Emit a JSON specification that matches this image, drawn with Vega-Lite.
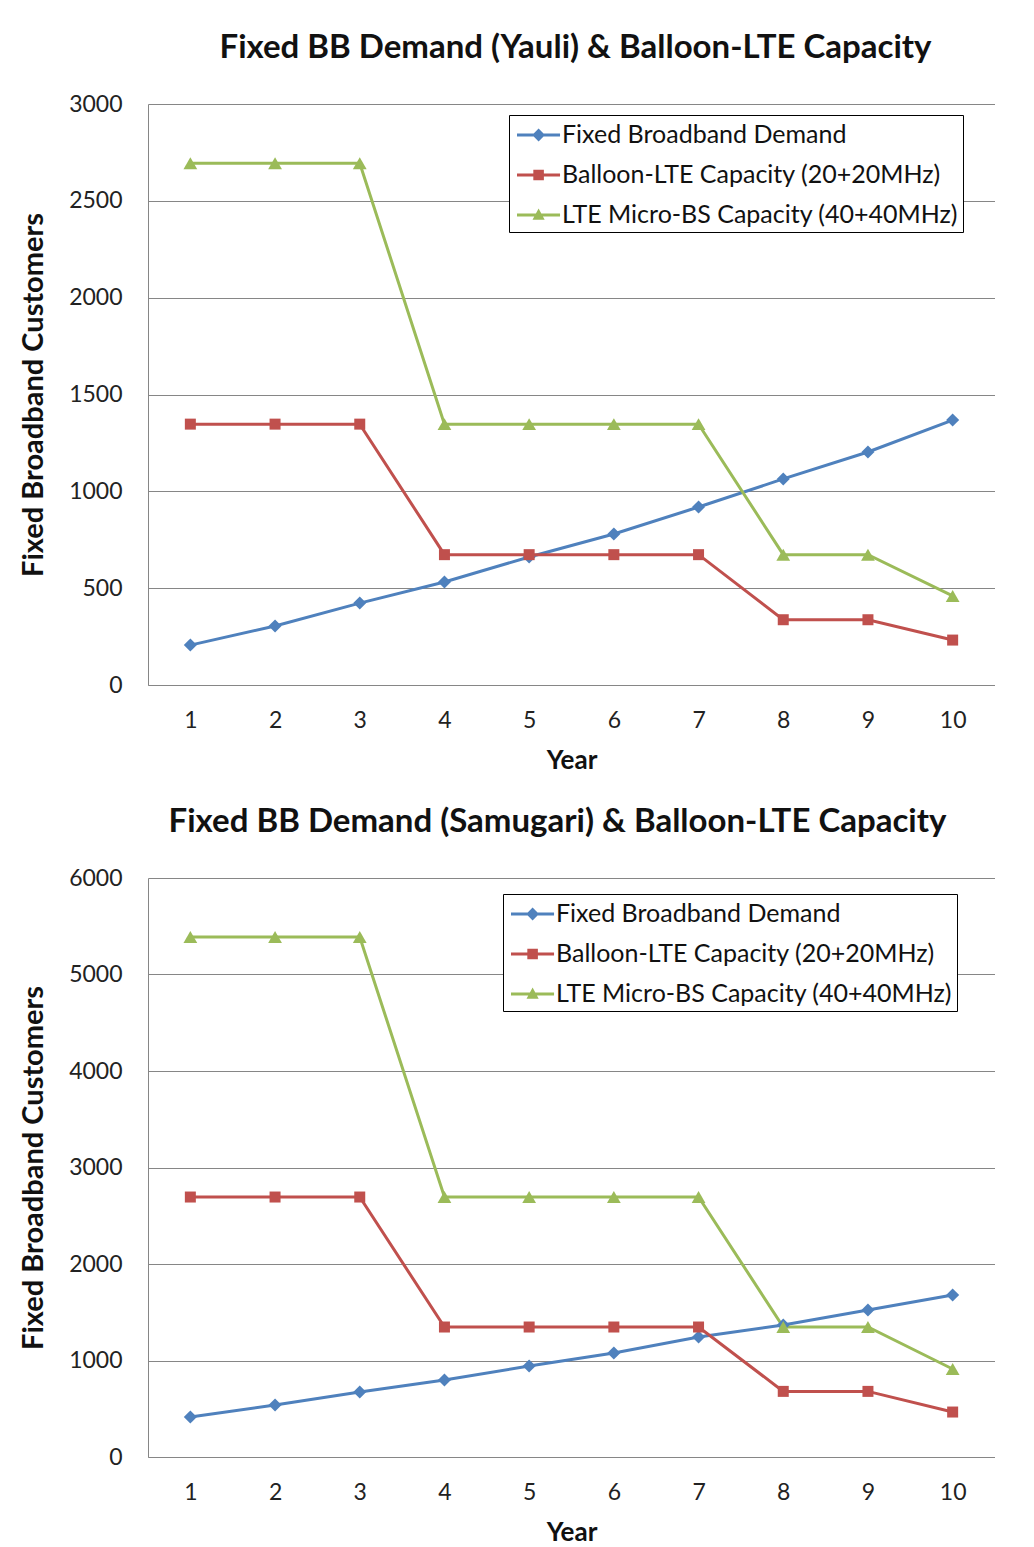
{
  "$schema": "https://vega.github.io/schema/vega-lite/v6.json",
  "background": "white",
  "padding": {"top": 32, "left": 19, "right": 0, "bottom": 0},
  "spacing": 33,
  "config": {
    "font": "Lato",
    "view": {"stroke": null},
    "axis": {
      "labelFont": "Lato", "labelFontSize": 23, "labelColor": "#222",
      "titleFont": "Lato", "titleFontSize": 26, "titleFontWeight": "bold", "titleColor": "#111",
      "ticks": false, "domainColor": "#868686", "gridColor": "#868686", "domainWidth": 1, "gridWidth": 1
    },
    "axisX": {"labelPadding": 24, "titlePadding": 15, "grid": false, "labelAngle": 0},
    "axisY": {"labelPadding": 26, "titlePadding": 20, "titleFontSize": 29, "grid": true, "format": "d"},
    "title": {"font": "Lato", "fontSize": 33, "fontWeight": "bold", "color": "#111", "frame": "group", "offset": 28}
  },
  "datasets": {
    "yauli": [
      {"year": 1, "series": "Fixed Broadband Demand", "customers": 206},
      {"year": 2, "series": "Fixed Broadband Demand", "customers": 305},
      {"year": 3, "series": "Fixed Broadband Demand", "customers": 423},
      {"year": 4, "series": "Fixed Broadband Demand", "customers": 532},
      {"year": 5, "series": "Fixed Broadband Demand", "customers": 661},
      {"year": 6, "series": "Fixed Broadband Demand", "customers": 780},
      {"year": 7, "series": "Fixed Broadband Demand", "customers": 919},
      {"year": 8, "series": "Fixed Broadband Demand", "customers": 1064},
      {"year": 9, "series": "Fixed Broadband Demand", "customers": 1203},
      {"year": 10, "series": "Fixed Broadband Demand", "customers": 1368},
      {"year": 1, "series": "Balloon-LTE Capacity (20+20MHz)", "customers": 1347},
      {"year": 2, "series": "Balloon-LTE Capacity (20+20MHz)", "customers": 1347},
      {"year": 3, "series": "Balloon-LTE Capacity (20+20MHz)", "customers": 1347},
      {"year": 4, "series": "Balloon-LTE Capacity (20+20MHz)", "customers": 673},
      {"year": 5, "series": "Balloon-LTE Capacity (20+20MHz)", "customers": 673},
      {"year": 6, "series": "Balloon-LTE Capacity (20+20MHz)", "customers": 673},
      {"year": 7, "series": "Balloon-LTE Capacity (20+20MHz)", "customers": 673},
      {"year": 8, "series": "Balloon-LTE Capacity (20+20MHz)", "customers": 337},
      {"year": 9, "series": "Balloon-LTE Capacity (20+20MHz)", "customers": 337},
      {"year": 10, "series": "Balloon-LTE Capacity (20+20MHz)", "customers": 232},
      {"year": 1, "series": "LTE Micro-BS Capacity (40+40MHz)", "customers": 2694},
      {"year": 2, "series": "LTE Micro-BS Capacity (40+40MHz)", "customers": 2694},
      {"year": 3, "series": "LTE Micro-BS Capacity (40+40MHz)", "customers": 2694},
      {"year": 4, "series": "LTE Micro-BS Capacity (40+40MHz)", "customers": 1347},
      {"year": 5, "series": "LTE Micro-BS Capacity (40+40MHz)", "customers": 1347},
      {"year": 6, "series": "LTE Micro-BS Capacity (40+40MHz)", "customers": 1347},
      {"year": 7, "series": "LTE Micro-BS Capacity (40+40MHz)", "customers": 1347},
      {"year": 8, "series": "LTE Micro-BS Capacity (40+40MHz)", "customers": 673},
      {"year": 9, "series": "LTE Micro-BS Capacity (40+40MHz)", "customers": 673},
      {"year": 10, "series": "LTE Micro-BS Capacity (40+40MHz)", "customers": 460}
    ],
    "samugari": [
      {"year": 1, "series": "Fixed Broadband Demand", "customers": 415},
      {"year": 2, "series": "Fixed Broadband Demand", "customers": 539},
      {"year": 3, "series": "Fixed Broadband Demand", "customers": 674},
      {"year": 4, "series": "Fixed Broadband Demand", "customers": 798},
      {"year": 5, "series": "Fixed Broadband Demand", "customers": 943},
      {"year": 6, "series": "Fixed Broadband Demand", "customers": 1078},
      {"year": 7, "series": "Fixed Broadband Demand", "customers": 1244},
      {"year": 8, "series": "Fixed Broadband Demand", "customers": 1368},
      {"year": 9, "series": "Fixed Broadband Demand", "customers": 1523},
      {"year": 10, "series": "Fixed Broadband Demand", "customers": 1679},
      {"year": 1, "series": "Balloon-LTE Capacity (20+20MHz)", "customers": 2694},
      {"year": 2, "series": "Balloon-LTE Capacity (20+20MHz)", "customers": 2694},
      {"year": 3, "series": "Balloon-LTE Capacity (20+20MHz)", "customers": 2694},
      {"year": 4, "series": "Balloon-LTE Capacity (20+20MHz)", "customers": 1347},
      {"year": 5, "series": "Balloon-LTE Capacity (20+20MHz)", "customers": 1347},
      {"year": 6, "series": "Balloon-LTE Capacity (20+20MHz)", "customers": 1347},
      {"year": 7, "series": "Balloon-LTE Capacity (20+20MHz)", "customers": 1347},
      {"year": 8, "series": "Balloon-LTE Capacity (20+20MHz)", "customers": 680},
      {"year": 9, "series": "Balloon-LTE Capacity (20+20MHz)", "customers": 680},
      {"year": 10, "series": "Balloon-LTE Capacity (20+20MHz)", "customers": 466},
      {"year": 1, "series": "LTE Micro-BS Capacity (40+40MHz)", "customers": 5388},
      {"year": 2, "series": "LTE Micro-BS Capacity (40+40MHz)", "customers": 5388},
      {"year": 3, "series": "LTE Micro-BS Capacity (40+40MHz)", "customers": 5388},
      {"year": 4, "series": "LTE Micro-BS Capacity (40+40MHz)", "customers": 2694},
      {"year": 5, "series": "LTE Micro-BS Capacity (40+40MHz)", "customers": 2694},
      {"year": 6, "series": "LTE Micro-BS Capacity (40+40MHz)", "customers": 2694},
      {"year": 7, "series": "LTE Micro-BS Capacity (40+40MHz)", "customers": 2694},
      {"year": 8, "series": "LTE Micro-BS Capacity (40+40MHz)", "customers": 1347},
      {"year": 9, "series": "LTE Micro-BS Capacity (40+40MHz)", "customers": 1347},
      {"year": 10, "series": "LTE Micro-BS Capacity (40+40MHz)", "customers": 912}
    ]
  },
  "vconcat": [
    {
      "width": 847, "height": 581,
      "title": {"text": "Fixed BB Demand (Yauli) & Balloon-LTE Capacity", "dx": 4},
      "data": {"name": "yauli"},
      "encoding": {
        "x": {"field": "year", "type": "ordinal", "title": "Year", "scale": {"type": "point", "padding": 0.5}},
        "y": {"field": "customers", "type": "quantitative", "title": "Fixed Broadband  Customers", "scale": {"domain": [0, 3000]}, "axis": {"values": [0, 500, 1000, 1500, 2000, 2500, 3000]}}
      },
      "layer": [
        {
          "mark": {"type": "line", "strokeWidth": 3},
          "encoding": {"color": {"field": "series", "type": "nominal", "scale": {"domain": ["Fixed Broadband Demand", "Balloon-LTE Capacity (20+20MHz)", "LTE Micro-BS Capacity (40+40MHz)"], "range": ["#4F81BD", "#C0504D", "#9BBB59"]}}}
        },
        {
          "transform": [{"filter": "datum.series === 'Fixed Broadband Demand'"}],
          "mark": {"type": "point", "shape": "diamond", "filled": true, "size": 170, "opacity": 1},
          "encoding": {"color": {"field": "series", "type": "nominal"}}
        },
        {
          "transform": [{"filter": "datum.series === 'Balloon-LTE Capacity (20+20MHz)'"}],
          "mark": {"type": "point", "shape": "square", "filled": true, "size": 121, "opacity": 1},
          "encoding": {"color": {"field": "series", "type": "nominal"}}
        },
        {
          "transform": [{"filter": "datum.series === 'LTE Micro-BS Capacity (40+40MHz)'"}],
          "mark": {"type": "point", "shape": "triangle-up", "filled": true, "size": 190, "opacity": 1},
          "encoding": {"color": {"field": "series", "type": "nominal"}}
        },
        {
          "mark": {"type": "point", "filled": true, "opacity": 0},
          "encoding": {
            "color": {"field": "series", "type": "nominal", "legend": {"title": null, "orient": "none", "legendX": 361, "legendY": 11, "strokeColor": "#000", "fillColor": "white", "padding": 4, "labelFont": "Lato", "labelFontSize": 25, "labelColor": "#111", "labelLimit": 600, "rowPadding": 11, "symbolSize": 1024, "labelOffset": 17, "symbolOpacity": 1, "symbolStrokeWidth": 0}},
            "shape": {"field": "series", "type": "nominal", "scale": {"domain": ["Fixed Broadband Demand", "Balloon-LTE Capacity (20+20MHz)", "LTE Micro-BS Capacity (40+40MHz)"], "range": ["M-0.75,-0.09H1.94V0.09H-0.75Z M0.6,-0.4L1.0,0L0.6,0.4L0.2,0Z", "M-0.75,-0.09H1.94V0.09H-0.75Z M0.27,-0.33H0.93V0.33H0.27Z", "M-0.75,-0.09H1.94V0.09H-0.75Z M0.6,-0.4L0.98,0.3H0.22Z"]}, "legend": {"title": null, "orient": "none", "legendX": 361, "legendY": 11, "strokeColor": "#000", "fillColor": "white", "padding": 4, "labelFont": "Lato", "labelFontSize": 25, "labelColor": "#111", "labelLimit": 600, "rowPadding": 11, "symbolSize": 1024, "labelOffset": 17, "symbolOpacity": 1, "symbolStrokeWidth": 0}}
          }
        }
      ]
    },
    {
      "width": 847, "height": 579,
      "title": {"text": "Fixed BB Demand (Samugari) & Balloon-LTE Capacity", "dx": -14},
      "data": {"name": "samugari"},
      "encoding": {
        "x": {"field": "year", "type": "ordinal", "title": "Year", "scale": {"type": "point", "padding": 0.5}},
        "y": {"field": "customers", "type": "quantitative", "title": "Fixed Broadband  Customers", "scale": {"domain": [0, 6000]}, "axis": {"values": [0, 1000, 2000, 3000, 4000, 5000, 6000]}}
      },
      "layer": [
        {
          "mark": {"type": "line", "strokeWidth": 3},
          "encoding": {"color": {"field": "series", "type": "nominal", "scale": {"domain": ["Fixed Broadband Demand", "Balloon-LTE Capacity (20+20MHz)", "LTE Micro-BS Capacity (40+40MHz)"], "range": ["#4F81BD", "#C0504D", "#9BBB59"]}}}
        },
        {
          "transform": [{"filter": "datum.series === 'Fixed Broadband Demand'"}],
          "mark": {"type": "point", "shape": "diamond", "filled": true, "size": 170, "opacity": 1},
          "encoding": {"color": {"field": "series", "type": "nominal"}}
        },
        {
          "transform": [{"filter": "datum.series === 'Balloon-LTE Capacity (20+20MHz)'"}],
          "mark": {"type": "point", "shape": "square", "filled": true, "size": 121, "opacity": 1},
          "encoding": {"color": {"field": "series", "type": "nominal"}}
        },
        {
          "transform": [{"filter": "datum.series === 'LTE Micro-BS Capacity (40+40MHz)'"}],
          "mark": {"type": "point", "shape": "triangle-up", "filled": true, "size": 190, "opacity": 1},
          "encoding": {"color": {"field": "series", "type": "nominal"}}
        },
        {
          "mark": {"type": "point", "filled": true, "opacity": 0},
          "encoding": {
            "color": {"field": "series", "type": "nominal", "legend": {"title": null, "orient": "none", "legendX": 355, "legendY": 16, "strokeColor": "#000", "fillColor": "white", "padding": 4, "labelFont": "Lato", "labelFontSize": 25, "labelColor": "#111", "labelLimit": 600, "rowPadding": 11, "symbolSize": 1024, "labelOffset": 17, "symbolOpacity": 1, "symbolStrokeWidth": 0}},
            "shape": {"field": "series", "type": "nominal", "scale": {"domain": ["Fixed Broadband Demand", "Balloon-LTE Capacity (20+20MHz)", "LTE Micro-BS Capacity (40+40MHz)"], "range": ["M-0.75,-0.09H1.94V0.09H-0.75Z M0.6,-0.4L1.0,0L0.6,0.4L0.2,0Z", "M-0.75,-0.09H1.94V0.09H-0.75Z M0.27,-0.33H0.93V0.33H0.27Z", "M-0.75,-0.09H1.94V0.09H-0.75Z M0.6,-0.4L0.98,0.3H0.22Z"]}, "legend": {"title": null, "orient": "none", "legendX": 355, "legendY": 16, "strokeColor": "#000", "fillColor": "white", "padding": 4, "labelFont": "Lato", "labelFontSize": 25, "labelColor": "#111", "labelLimit": 600, "rowPadding": 11, "symbolSize": 1024, "labelOffset": 17, "symbolOpacity": 1, "symbolStrokeWidth": 0}}
          }
        }
      ]
    }
  ],
  "resolve": {"scale": {"color": "independent", "shape": "independent", "x": "independent", "y": "independent"}}
}
